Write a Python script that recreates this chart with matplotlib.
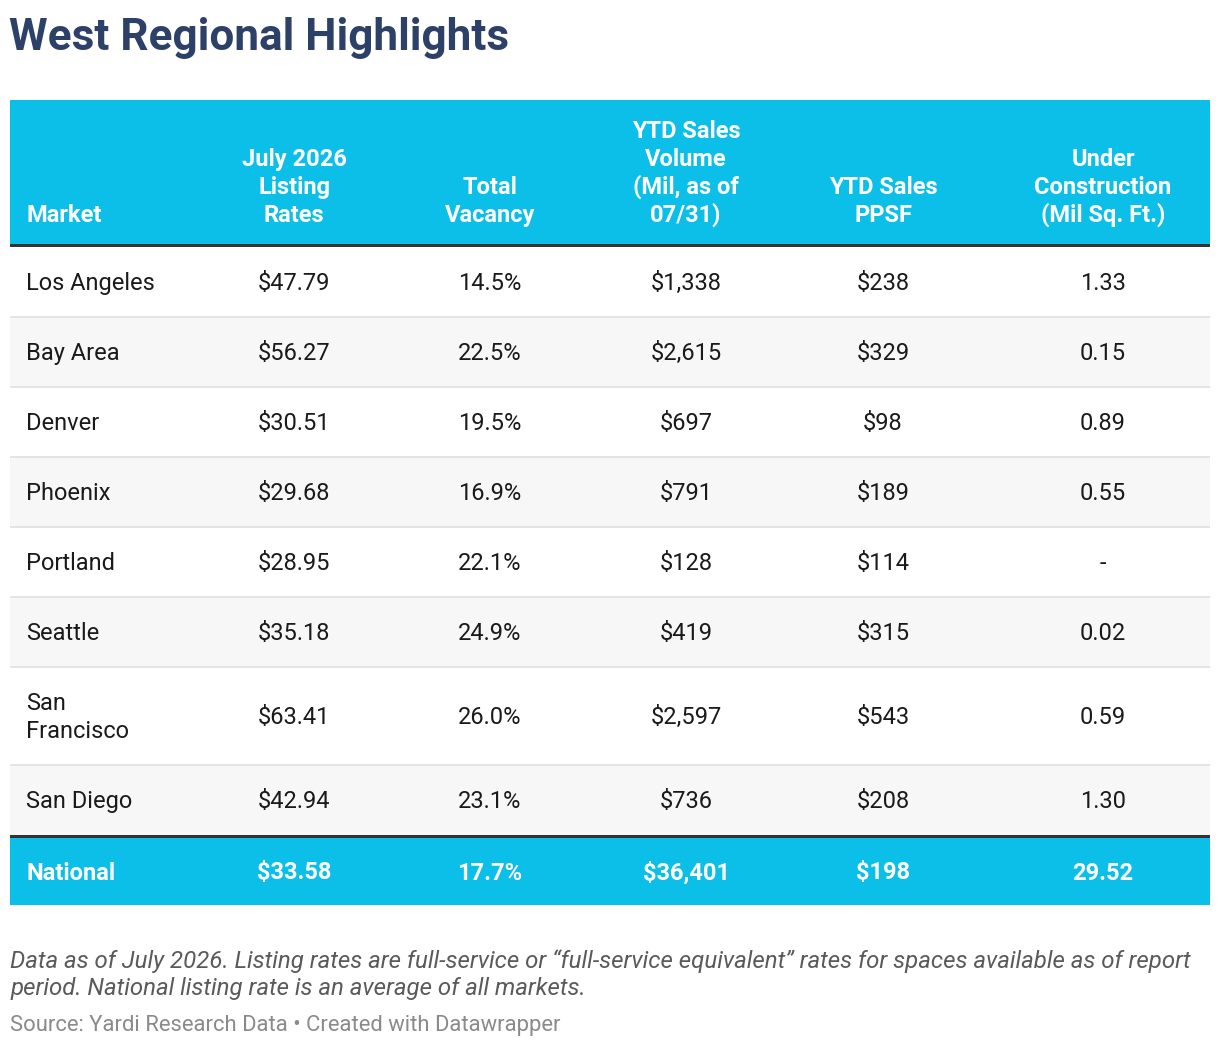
import textwrap
import matplotlib.pyplot as plt
from matplotlib.patches import Rectangle

plt.rcParams['font.family'] = ['Roboto', 'DejaVu Sans']

markets = ['Los Angeles', 'Bay Area', 'Denver', 'Phoenix', 'Portland',
           'Seattle', 'San Francisco', 'San Diego']
listing_rates = [47.79, 56.27, 30.51, 29.68, 28.95, 35.18, 63.41, 42.94]
total_vacancy = [14.5, 22.5, 19.5, 16.9, 22.1, 24.9, 26.0, 23.1]
sales_volume = [1338, 2615, 697, 791, 128, 419, 2597, 736]
sales_ppsf = [238, 329, 98, 189, 114, 315, 543, 208]
under_construction = [1.33, 0.15, 0.89, 0.55, None, 0.02, 0.59, 1.30]

national = ['National', 33.58, 17.7, 36401, 198, 29.52]

headers = ['Market', 'July 2026\nListing\nRates', 'Total\nVacancy',
           'YTD Sales\nVolume\n(Mil, as of\n07/31)', 'YTD Sales\nPPSF',
           'Under\nConstruction\n(Mil Sq. Ft.)']


def fmt(row):
    name, lr, vac, vol, ppsf, uc = row
    return [name, '$%.2f' % lr, '%.1f%%' % vac, '${:,}'.format(vol),
            '$%d' % ppsf, '-' if uc is None else '%.2f' % uc]


W, H = 1220, 1048
fig = plt.figure(figsize=(W / 100, H / 100), dpi=100)
ax = fig.add_axes([0, 0, 1, 1])
ax.set_xlim(0, W)
ax.set_ylim(H, 0)
ax.axis('off')

CYAN = '#0bbfe9'
DARK = '#333333'
TITLE = '#2d4068'
left, right = 10, 1210
col_x = [26, 294, 490, 686, 883, 1103]
fs = 17
lh = 28

ax.text(9, 50, 'West Regional Highlights', fontsize=31.8, fontweight='bold',
        color=TITLE, va='baseline', ha='left')

# header
top, head_bot = 100, 244
ax.add_patch(Rectangle((left, top), right - left, head_bot - top, color=CYAN, lw=0))
for i, h in enumerate(headers):
    lines = h.split('\n')
    for k, line in enumerate(lines):
        y = 222 - (len(lines) - 1 - k) * lh
        ax.text(col_x[i], y, line, fontsize=fs, fontweight='bold', color='white',
                ha='left' if i == 0 else 'center', va='baseline')
ax.add_patch(Rectangle((left, head_bot), right - left, 3, color=DARK, lw=0))

# body rows
y0 = 247
for r in range(len(markets)):
    cells = fmt([markets[r], listing_rates[r], total_vacancy[r], sales_volume[r],
                 sales_ppsf[r], under_construction[r]])
    name_lines = textwrap.wrap(cells[0], 12)
    rh = 70 + lh * (len(name_lines) - 1)
    bg = '#f7f7f7' if r % 2 == 1 else 'white'
    ax.add_patch(Rectangle((left, y0), right - left, rh, color=bg, lw=0))
    if r > 0:
        ax.add_patch(Rectangle((left, y0 - 1), right - left, 2, color='#e4e4e4', lw=0))
    mid = y0 + rh / 2
    for k, line in enumerate(name_lines):
        yy = mid + (k - (len(name_lines) - 1) / 2) * lh
        ax.text(col_x[0], yy + 8, line, fontsize=fs, color='#1a1a1a',
                ha='left', va='baseline')
    for i in range(1, 6):
        ax.text(col_x[i], mid + 8, cells[i], fontsize=fs, color='#1a1a1a',
                ha='center', va='baseline')
    y0 += rh

ax.add_patch(Rectangle((left, y0), right - left, 3, color=DARK, lw=0))
y0 += 3
nat_h = 67
ax.add_patch(Rectangle((left, y0), right - left, nat_h, color=CYAN, lw=0))
cells = fmt(national)
for i, c in enumerate(cells):
    ax.text(col_x[i], y0 + nat_h / 2 + 8, c, fontsize=fs, fontweight='bold',
            color='white', ha='left' if i == 0 else 'center', va='baseline')

# notes
ax.text(10, 968, 'Data as of July 2026. Listing rates are full-service or '
        '\u201cfull-service equivalent\u201d rates for spaces available as of report',
        fontsize=17.3, style='italic', color='#5a5a5a', va='baseline')
ax.text(10, 995, 'period. National listing rate is an average of all markets.',
        fontsize=17.3, style='italic', color='#5a5a5a', va='baseline')
ax.text(10, 1031, 'Source: Yardi Research Data \u2022 Created with Datawrapper',
        fontsize=15.85, color='#8a8a8a', va='baseline')

fig.savefig('out.png', dpi=100, facecolor='white')
